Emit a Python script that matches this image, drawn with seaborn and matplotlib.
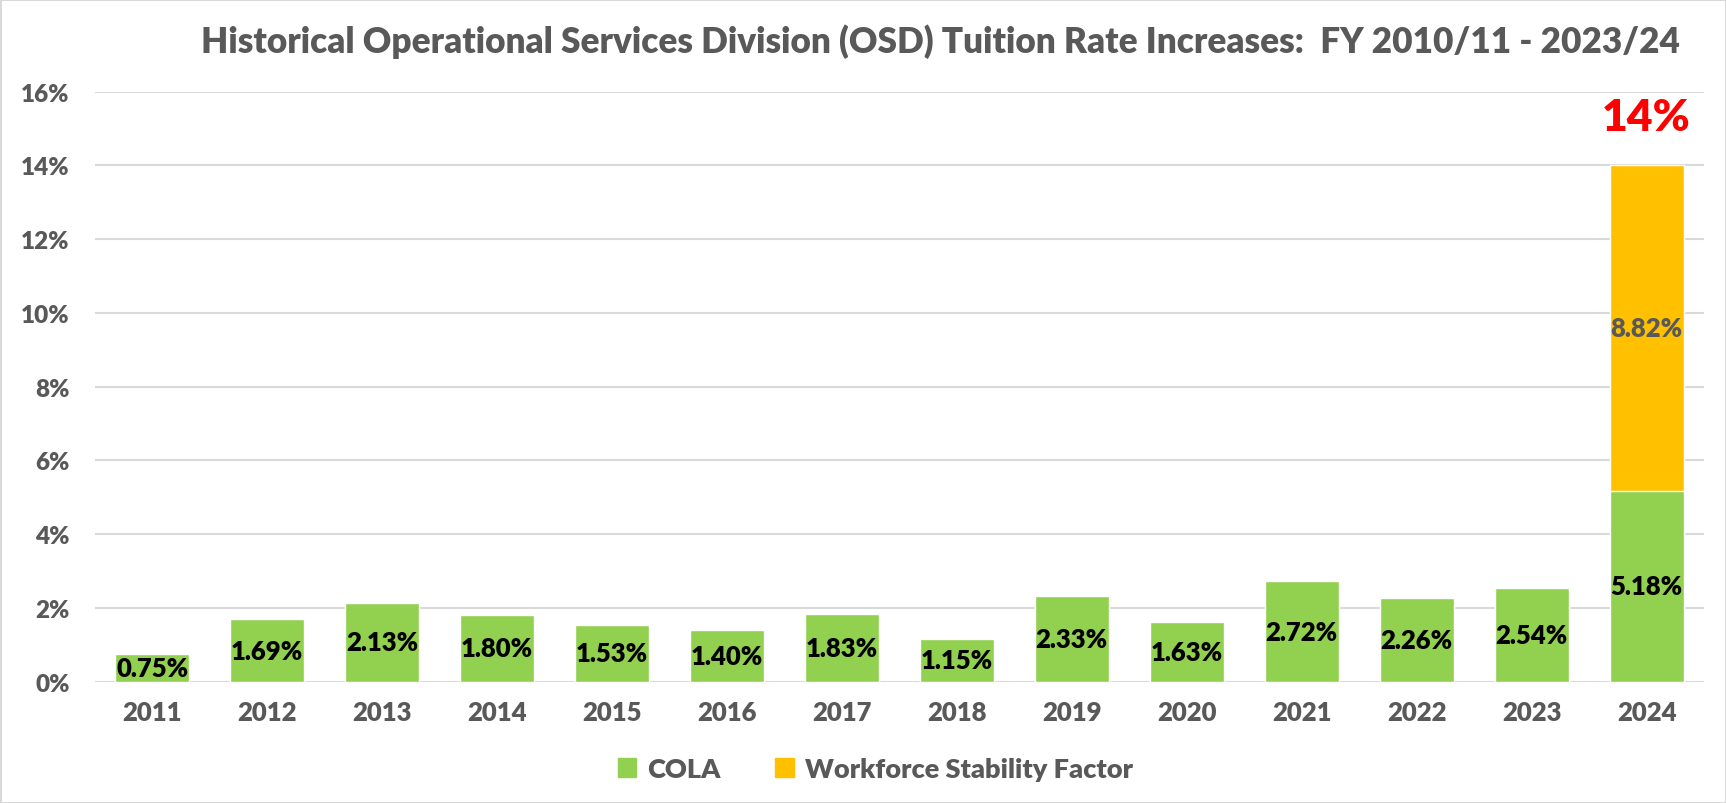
import pandas as pd
import seaborn as sns
import matplotlib.pyplot as plt
from matplotlib.patches import Patch

sns.set_theme(style="white")
plt.rcParams['font.family'] = ['Lato', 'DejaVu Sans']

years = ["2011", "2012", "2013", "2014", "2015", "2016", "2017",
         "2018", "2019", "2020", "2021", "2022", "2023", "2024"]
cola = [0.75, 1.69, 2.13, 1.80, 1.53, 1.40, 1.83, 1.15, 2.33, 1.63, 2.72, 2.26, 2.54, 5.18]
wsf = [0, 0, 0, 0, 0, 0, 0, 0, 0, 0, 0, 0, 0, 8.82]
y_ticks = [0, 2, 4, 6, 8, 10, 12, 14, 16]

green = "#92D050"
orange = "#FFC000"
gray = "#595959"
grid = "#D9D9D9"
W = "heavy"

df = pd.DataFrame({"year": years, "COLA": cola, "WSF": wsf})
df["total"] = df["COLA"] + df["WSF"]

fig = plt.figure(figsize=(17.26, 8.04), dpi=100)
fig.patch.set_edgecolor(grid)
fig.patch.set_linewidth(2)
ax = fig.add_axes([0.0548, 0.1509, 0.9325, 0.7338])

# stacked: total in orange underneath, COLA on top of it in green
sns.barplot(df, x="year", y="total", color=orange, saturation=1, width=0.645, ax=ax)
sns.barplot(df, x="year", y="COLA", color=green, saturation=1, width=0.645, ax=ax)

ax.bar_label(ax.containers[1], labels=[f"{v:.2f}%" for v in cola], label_type="center",
             fontsize=18.5, fontweight=W, color="black")
for i, (c, w) in enumerate(zip(cola, wsf)):
    if w > 0:
        ax.text(i, c + w / 2, f"{w:.2f}%", ha="center", va="center",
                fontsize=18.5, fontweight=W, color=gray)
        ax.annotate(f"{c + w:.0f}%", (i, c + w), xytext=(0, 35), textcoords="offset points",
                    ha="center", va="center", fontsize=32, fontweight=W, color="#FF0000")

ax.set_ylim(0, 16)
ax.set_yticks(y_ticks)
ax.set_yticklabels([f"{t}%" for t in y_ticks])
ax.set_xlim(-0.5, len(years) - 0.5)
ax.set_xlabel("")
ax.set_ylabel("")
ax.yaxis.grid(True, color=grid, linewidth=1.5)
ax.set_axisbelow(True)
for s in ax.spines.values():
    s.set_visible(False)
ax.tick_params(axis="x", length=0, labelsize=18.5, labelcolor=gray, pad=13)
ax.tick_params(axis="y", length=0, labelsize=17.5, labelcolor=gray, pad=18)
for lab in ax.get_xticklabels() + ax.get_yticklabels():
    lab.set_fontweight(W)

fig.text(0.545, 0.948, "Historical Operational Services Division (OSD) Tuition Rate Increases:  FY 2010/11 - 2023/24",
         ha="center", va="center", fontsize=25.3, fontweight=W, color=gray)

handles = [Patch(color=green, label="COLA"), Patch(color=orange, label="Workforce Stability Factor")]
fig.legend(handles=handles, loc="center", bbox_to_anchor=(0.507, 0.042), ncol=2, frameon=False,
           prop={"size": 19.5, "weight": W}, labelcolor=gray, handlelength=0.7, handleheight=0.7,
           handletextpad=0.4, columnspacing=2.0)

fig.savefig("out.png", dpi=100, edgecolor=fig.get_edgecolor())
